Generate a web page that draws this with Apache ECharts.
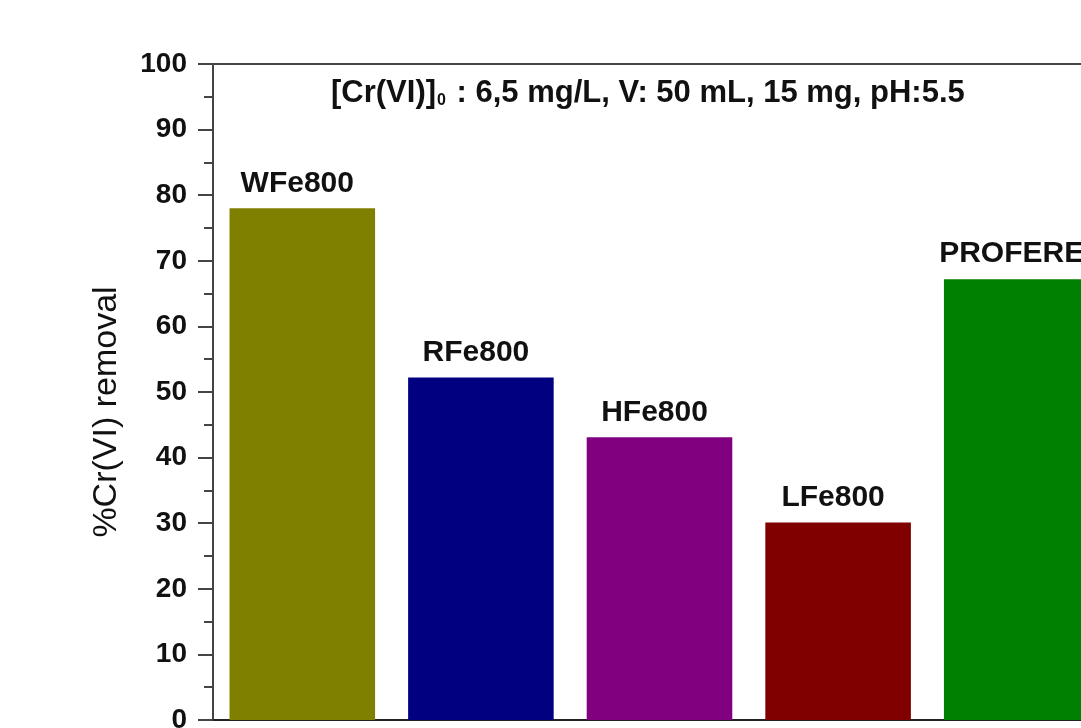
<!DOCTYPE html>
<html>
<head>
<meta charset="utf-8">
<script src="https://cdn.jsdelivr.net/npm/echarts@6/dist/echarts.min.js"></script>
<style>html,body{margin:0;padding:0;background:#fff;}#c{width:1081px;height:728px;}</style>
</head>
<body>
<div id="c"></div>
<script>
const categories = ['WFe800', 'RFe800', 'HFe800', 'LFe800', 'PROFERE'];
const removal = [78, 52.2, 43.1, 30.1, 67.2];
const barColors = ['#808000', '#000080', '#800080', '#800000', '#008000'];
const yTicks = [0, 10, 20, 30, 40, 50, 60, 70, 80, 90, 100];
const yAxisTitle = '%Cr(VI) removal';
const conditions = ['[Cr(VI)]', '0', ' : 6,5 mg/L, V: 50 mL, 15 mg, pH:5.5'];

const FONT = '"Liberation Sans", Arial, sans-serif';
const chart = echarts.init(document.getElementById('c'), null, {renderer: 'canvas'});
chart.setOption({
  animation: false,
  backgroundColor: '#fff',
  title: {
    left: 326, top: 73,
    text: '{a|' + conditions[0] + '}{s|' + conditions[1] + '}{a|' + conditions[2] + '}',
    textStyle: {
      rich: {
        a: {fontFamily: FONT, fontWeight: 'bold', fontSize: 31, color: '#111'},
        s: {fontFamily: FONT, fontWeight: 'bold', fontSize: 16, color: '#111', verticalAlign: 'bottom', padding: [14, 2, 0, 1]}
      }
    }
  },
  grid: {left: 213, top: 64, width: 893, height: 656, show: true, borderColor: '#444', borderWidth: 2,
         backgroundColor: 'transparent', outerBoundsMode: 'none', containLabel: false},
  xAxis: {
    type: 'category', data: categories,
    axisLine: {lineStyle: {color: '#222', width: 2}},
    axisTick: {show: false}, axisLabel: {show: false}, splitLine: {show: false}
  },
  yAxis: {
    type: 'value', min: 0, max: 100, interval: 10,
    name: yAxisTitle, nameLocation: 'middle', nameGap: 89,
    nameTextStyle: {fontFamily: FONT, fontSize: 34, color: '#111', padding: [0, 40, 0, 0]},
    axisLine: {show: true, lineStyle: {color: '#444', width: 2}},
    axisTick: {show: true, length: 15, lineStyle: {color: '#444', width: 2}},
    minorTick: {show: true, splitNumber: 2, length: 9, lineStyle: {color: '#444', width: 2}},
    splitLine: {show: false},
    axisLabel: {
      margin: 26, fontFamily: FONT, fontWeight: 'bold', fontSize: 28, color: '#111',
      formatter: v => yTicks.includes(v) ? String(v) : ''
    }
  },
  series: [{
    type: 'bar',
    barCategoryGap: '18.5%',
    data: removal.map((v, i) => ({value: v, itemStyle: {color: barColors[i]}})),
    label: {
      show: true, position: 'top', distance: 10, offset: [-5, 0],
      formatter: p => categories[p.dataIndex],
      fontFamily: FONT, fontWeight: 'bold', fontSize: 30, color: '#111'
    }
  }]
});
</script>
</body>
</html>
